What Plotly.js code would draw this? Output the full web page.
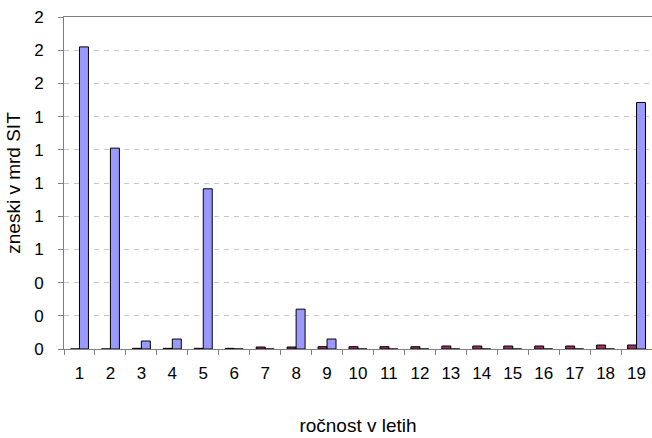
<!DOCTYPE html>
<html>
<head>
<meta charset="utf-8">
<script src="https://cdn.plot.ly/plotly-3.0.1.min.js"></script>
<style>html,body{margin:0;padding:0;background:#fff;}#chart{width:652px;height:438px;}</style>
</head>
<body>
<div id="chart"></div>
<script>
const categories = ["1","2","3","4","5","6","7","8","9","10","11","12","13","14","15","16","17","18","19"];
const seriesRed = [0, 0, 0.004, 0.004, 0.004, 0.004, 0.012, 0.012, 0.014, 0.014, 0.014, 0.014, 0.018, 0.018, 0.018, 0.018, 0.018, 0.024, 0.024];
const seriesBlue = [1.82, 1.21, 0.048, 0.06, 0.965, 0, 0, 0.24, 0.06, 0, 0, 0, 0, 0, 0, 0, 0, 0, 1.485];
const yTicks = [0, 0.2, 0.4, 0.6, 0.8, 1.0, 1.2, 1.4, 1.6, 1.8, 2.0];

const fam = '"Liberation Sans", Arial, sans-serif';
const tickFont = {family: fam, size: 17, color: '#000'};
const titleFont = {family: fam, size: 19, color: '#000'};
const data = [
  {type: 'bar', x: categories, y: seriesRed, marker: {color: '#993366', line: {color: '#000', width: 1}}, hoverinfo: 'x+y'},
  {type: 'bar', x: categories, y: seriesBlue, marker: {color: '#9999FF', line: {color: '#000', width: 1}}, hoverinfo: 'x+y'}
];
const layout = {
  width: 652, height: 438,
  margin: {l: 64, r: 0, t: 17, b: 89},
  paper_bgcolor: '#fff', plot_bgcolor: '#fff',
  showlegend: false,
  barmode: 'group', bargap: 0.42, bargroupgap: 0,
  font: tickFont,
  xaxis: {
    type: 'category', tickson: 'boundaries', ticks: 'outside', ticklen: 5, tickcolor: '#808080',
    showline: true, linecolor: '#808080', linewidth: 1, mirror: true, showgrid: false,
    tickfont: tickFont, ticklabelstandoff: 9,
    title: {text: 'ročnost v letih', font: titleFont, standoff: 36}
  },
  yaxis: {
    range: [0, 2], tickvals: yTicks, tickformat: '.0f', ticks: 'outside', ticklen: 5, tickcolor: '#808080',
    showline: true, linecolor: '#808080', linewidth: 1, mirror: true,
    showgrid: true, gridcolor: '#c8c8c8', griddash: '5px,5px', gridwidth: 1,
    zeroline: false, tickfont: tickFont, ticklabelstandoff: 11,
    title: {text: 'zneski v mrd SIT', font: titleFont, standoff: 8}
  }
};
Plotly.newPlot('chart', data, layout, {staticPlot: true});
</script>
</body>
</html>
